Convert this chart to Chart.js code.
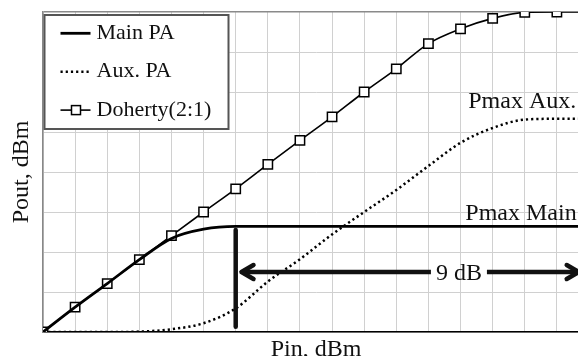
<!DOCTYPE html>
<html>
<head>
<meta charset="utf-8">
<title>Doherty PA output</title>
<script src="https://cdn.jsdelivr.net/npm/chart.js@4.4.1/dist/chart.umd.min.js"></script>
<style>
  html, body { margin: 0; padding: 0; background: #fff; overflow: hidden; }
  #wrap { width: 578px; height: 356px; overflow: hidden; }
  canvas { display: block; }
</style>
</head>
<body>
<div id="wrap"><canvas id="chart" width="600" height="356"></canvas></div>
<script>
// input drive, one grid step per point
const pin = [0, 1, 2, 3, 4, 5, 6, 7, 8, 9, 10, 11, 12, 13, 14, 15, 16, 17];

// output power, in grid steps of the Pout axis
const mainPa  = [0, 0.62, 1.21, 1.81, 2.34, 2.57, 2.64, 2.64, 2.64, 2.64, 2.64, 2.64, 2.64, 2.64, 2.64, 2.64, 2.64, 2.64];
const auxPa   = [0, 0, 0, 0.01, 0.07, 0.22, 0.59, 1.26, 1.82, 2.44, 3.0, 3.55, 4.15, 4.73, 5.1, 5.31, 5.33, 5.33];
const doherty = [0, 0.62, 1.21, 1.81, 2.41, 3.0, 3.58, 4.19, 4.79, 5.38, 6.0, 6.58, 7.21, 7.58, 7.84, 7.99, 8.0, 8.0];

const seriesNames = ['Main PA', 'Aux. PA', 'Doherty(2:1)'];

// where the notes sit, in axis units
const mainSatPin = 6;
const backoffLevel = 1.5;
const backoffEnd = 16.68;
const pmaxAuxAt = [13.24, 5.59];
const pmaxMainAt = [13.15, 2.8];
const backoffLabelAt = [12.95, 1.3];

const SERIF = '"Liberation Serif", "Times New Roman", serif';
const INK = '#111';

const toPoints = ys => ys.map((y, i) => ({ x: pin[i], y: y }));

function arrowHead(ctx, x, y, dir) {
  ctx.beginPath();
  ctx.moveTo(x + dir * 12, y - 7);
  ctx.lineTo(x, y);
  ctx.lineTo(x + dir * 12, y + 7);
  ctx.stroke();
}

const notesPlugin = {
  id: 'notes',
  afterDatasetsDraw(chart) {
    const { ctx, scales: { x, y } } = chart;
    ctx.save();
    ctx.strokeStyle = INK;
    ctx.lineWidth = 4.5;
    ctx.lineCap = 'round';
    ctx.lineJoin = 'round';

    // main PA saturation marker
    ctx.beginPath();
    ctx.moveTo(x.getPixelForValue(mainSatPin), y.getPixelForValue(0.13));
    ctx.lineTo(x.getPixelForValue(mainSatPin), y.getPixelForValue(2.55));
    ctx.stroke();

    // 9 dB back-off arrow, split around its label
    const ay = y.getPixelForValue(backoffLevel);
    const x0 = x.getPixelForValue(mainSatPin + 0.18);
    const x1 = x.getPixelForValue(backoffEnd);
    ctx.font = '24px ' + SERIF;
    const label = '9 dB';
    const lx = x.getPixelForValue(backoffLabelAt[0]);
    const half = ctx.measureText(label).width / 2 + 5;
    ctx.lineCap = 'butt';
    ctx.beginPath();
    ctx.moveTo(x0 + 2, ay);
    ctx.lineTo(lx - half, ay);
    ctx.moveTo(lx + half, ay);
    ctx.lineTo(x1 - 2, ay);
    ctx.stroke();
    ctx.lineCap = 'round';
    arrowHead(ctx, x0, ay, 1);
    arrowHead(ctx, x1, ay, -1);

    ctx.fillStyle = INK;
    ctx.textAlign = 'center';
    ctx.textBaseline = 'alphabetic';
    ctx.fillText(label, lx, y.getPixelForValue(backoffLabelAt[1]));

    ctx.textAlign = 'left';
    ctx.fillText('Pmax Aux.', x.getPixelForValue(pmaxAuxAt[0]), y.getPixelForValue(pmaxAuxAt[1]));
    ctx.fillText('Pmax Main', x.getPixelForValue(pmaxMainAt[0]), y.getPixelForValue(pmaxMainAt[1]));
    ctx.restore();
  },
  afterDraw(chart) {
    // boxed legend in the top-left corner of the plot
    const { ctx, chartArea } = chart;
    const bx = chartArea.left + 1.5, by = chartArea.top + 3;
    const bw = 184, bh = 114;
    ctx.save();
    ctx.fillStyle = '#fff';
    ctx.fillRect(bx, by, bw, bh);
    ctx.strokeStyle = '#555';
    ctx.lineWidth = 2;
    ctx.strokeRect(bx, by, bw, bh);

    ctx.font = '22px ' + SERIF;
    ctx.textBaseline = 'middle';
    ctx.textAlign = 'left';
    chart.data.datasets.forEach((ds, i) => {
      const ry = by + 18.3 + i * 38.4;
      const sx = bx + 16;
      ctx.strokeStyle = ds.borderColor;
      ctx.lineWidth = ds.borderWidth;
      ctx.setLineDash(ds.borderDash || []);
      ctx.beginPath();
      ctx.moveTo(sx, ry);
      ctx.lineTo(sx + 30, ry);
      ctx.stroke();
      ctx.setLineDash([]);
      if (ds.pointRadius > 0) {
        ctx.fillStyle = '#fff';
        ctx.lineWidth = ds.pointBorderWidth;
        ctx.fillRect(sx + 11, ry - 4.5, 9, 9);
        ctx.strokeRect(sx + 11, ry - 4.5, 9, 9);
      }
      ctx.fillStyle = INK;
      ctx.fillText(ds.label, sx + 36, ry);
    });
    ctx.restore();
  }
};

new Chart(document.getElementById('chart'), {
  type: 'line',
  data: {
    datasets: [
      {
        label: seriesNames[0],
        data: toPoints(mainPa),
        borderColor: '#000',
        borderWidth: 2.8,
        pointRadius: 0,
        cubicInterpolationMode: 'monotone'
      },
      {
        label: seriesNames[1],
        data: toPoints(auxPa),
        borderColor: '#000',
        borderWidth: 2.5,
        borderDash: [2.2, 3],
        pointRadius: 0,
        cubicInterpolationMode: 'monotone'
      },
      {
        label: seriesNames[2],
        data: toPoints(doherty),
        borderColor: '#000',
        borderWidth: 1.6,
        pointStyle: 'rect',
        pointRadius: 6.6,
        pointBorderWidth: 1.5,
        pointBorderColor: '#000',
        pointBackgroundColor: '#fff',
        cubicInterpolationMode: 'monotone'
      }
    ]
  },
  options: {
    responsive: false,
    animation: false,
    layout: { padding: { left: 0, top: 12, right: 11, bottom: 0 } },
    plugins: {
      legend: { display: false },
      tooltip: { enabled: false }
    },
    scales: {
      x: {
        type: 'linear',
        min: 0,
        max: 17,
        ticks: { display: false, stepSize: 1 },
        grid: { color: '#d0d0d0', lineWidth: 1, drawTicks: false },
        border: { color: '#000', width: 1.5 },
        title: {
          display: true,
          text: 'Pin, dBm',
          color: INK,
          font: { family: SERIF, size: 24, lineHeight: 0.55 },
          padding: { top: 0, bottom: 0 }
        },
        afterFit(scale) { scale.height = 24; }
      },
      y: {
        min: 0,
        max: 8,
        ticks: { display: false, stepSize: 1 },
        grid: {
          color: c => c.tick && c.tick.value === 8 ? '#8a8a8a' : '#d0d0d0',
          lineWidth: c => c.tick && c.tick.value === 8 ? 1.5 : 1,
          drawTicks: false
        },
        border: { color: '#888', width: 1.5 },
        title: {
          display: true,
          text: 'Pout, dBm',
          color: INK,
          font: { family: SERIF, size: 24, lineHeight: 1.2 },
          padding: { top: 7, bottom: 0 }
        },
        afterFit(scale) { scale.width = 43; }
      }
    }
  },
  plugins: [notesPlugin]
});
</script>
</body>
</html>
